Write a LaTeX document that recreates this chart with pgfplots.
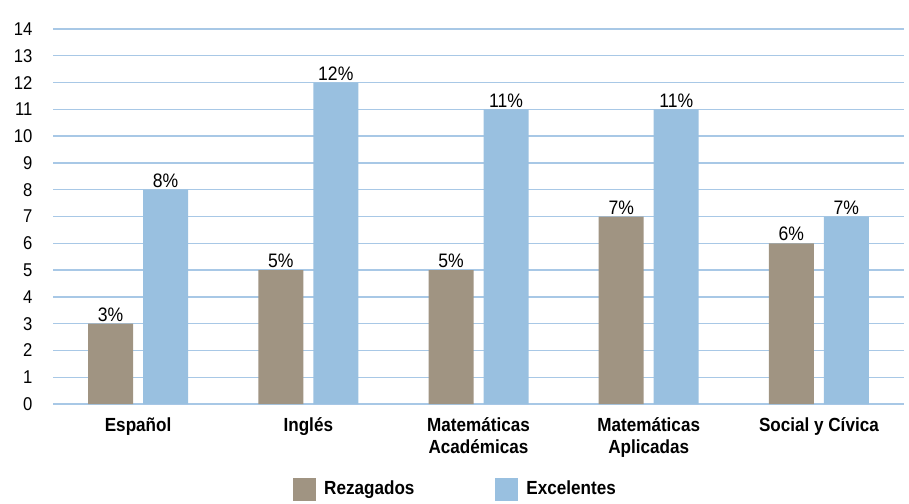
\documentclass[border=0pt]{standalone}
\usepackage{pgfplots}
\pgfplotsset{compat=1.18}
\usepackage{fontspec}
\setmainfont{Liberation Sans}[FakeStretch=0.9]
\definecolor{rez}{RGB}{160,148,130}
\definecolor{exc}{RGB}{153,192,224}
\definecolor{grid}{RGB}{168,200,230}
\begin{document}
\fontsize{19pt}{22pt}\selectfont
\begin{tikzpicture}
\begin{axis}[
  name=ax,
  scale only axis,
  width=851pt, height=375pt,
  ybar=10pt, bar width=45pt,
  xmin=-0.5, xmax=4.5,
  ymin=0, ymax=14,
  ytick={0,1,...,14},
  xtick=data,
  xticklabels={Español, Inglés, {Matemáticas\\Académicas}, {Matemáticas\\Aplicadas}, {Social y Cívica}},
  xticklabel style={font=\fontsize{19pt}{22pt}\selectfont\bfseries, align=center, yshift=-3pt},
  yticklabel style={font=\fontsize{18.5pt}{22pt}\selectfont, xshift=-14pt},
  /pgf/number format/assume math mode=true,
  axis line style={draw=none},
  major tick style={draw=none},
  ymajorgrids,
  major grid style={draw=grid, line width=1.3pt},
  nodes near coords={\pgfmathprintnumber{\pgfplotspointmeta}\%},
  nodes near coords style={font=\fontsize{19.5pt}{22pt}\selectfont, inner sep=2pt},
  legend columns=2,
  legend style={draw=none, at={(0.473,-0.228)}, anchor=center, font=\fontsize{19pt}{22pt}\selectfont\bfseries,
    /tikz/every odd column/.append style={column sep=6pt},
    /tikz/every even column/.append style={column sep=79pt}},
  legend image code/.code={\path[#1,draw=none] (0pt,-11.5pt) rectangle (23pt,11.5pt);},
]
\addplot[fill=rez, draw=none] coordinates {(0,3) (1,5) (2,5) (3,7) (4,6)};
\addplot[fill=exc, draw=none] coordinates {(0,8) (1,12) (2,11) (3,11) (4,7)};
\legend{Rezagados, Excelentes}
\end{axis}
\path (ax.south west) ++(-53pt,-98pt) coordinate (bl);
\path (ax.north east) ++(5pt,29pt) coordinate (tr);
\path (bl) rectangle (tr);
\end{tikzpicture}
\end{document}
